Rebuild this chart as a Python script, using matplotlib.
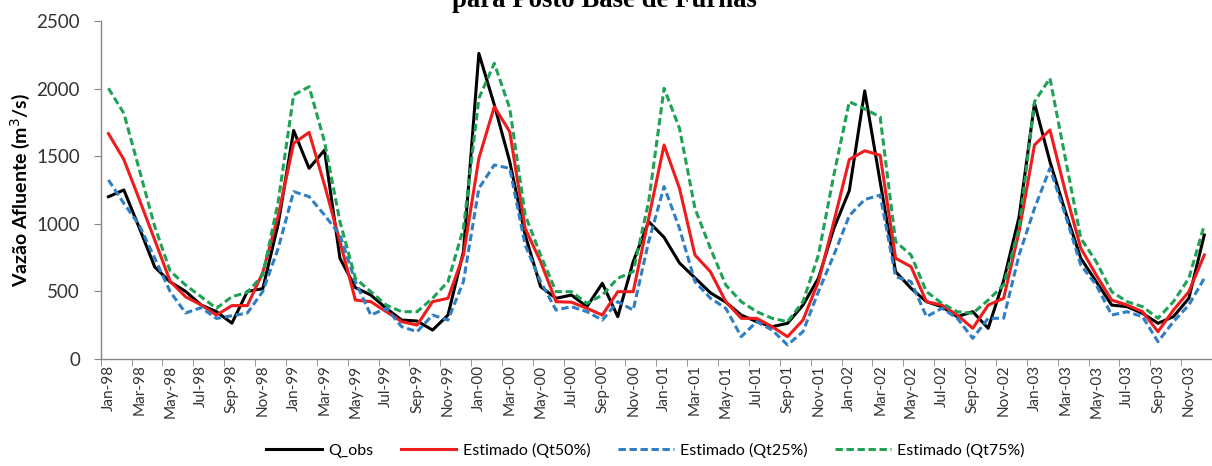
import matplotlib
matplotlib.use("Agg")
import matplotlib.pyplot as plt
import numpy as np

# monthly inflow, Jan-98 .. Dec-03 (m3/s)
months = [f"{m}-{y:02d}" for y in (98, 99, 0, 1, 2, 3)
          for m in ("Jan", "Feb", "Mar", "Apr", "May", "Jun",
                    "Jul", "Aug", "Sep", "Oct", "Nov", "Dec")]

q_obs = [1200, 1250, 970, 680, 570, 500, 400, 350, 265, 500, 520, 1000,
         1690, 1410, 1545, 745, 528, 473, 375, 288, 281, 214, 325, 794,
         2260, 1880, 1460, 917, 535, 449, 473, 387, 560, 313, 720, 1016,
         900, 710, 600, 490, 420, 325, 276, 239, 264, 399, 597, 966,
         1245, 1983, 1310, 646, 523, 424, 387, 313, 350, 227, 580, 1050,
         1891, 1460, 1090, 745, 572, 399, 387, 338, 264, 313, 449, 917]

qt50 = [1667, 1475, 1180, 880, 575, 460, 400, 325, 395, 395, 640, 1060,
        1595, 1676, 1287, 868, 436, 424, 350, 276, 251, 424, 449, 769,
        1484, 1866, 1681, 966, 720, 424, 420, 375, 325, 498, 498, 1040,
        1583, 1262, 769, 646, 424, 301, 301, 239, 165, 288, 572, 1016,
        1475, 1540, 1507, 745, 683, 424, 399, 325, 227, 399, 449, 942,
        1583, 1694, 1238, 819, 621, 436, 399, 350, 202, 362, 498, 769]

qt25 = [1324, 1151, 990, 745, 498, 340, 380, 300, 320, 340, 500, 819,
        1238, 1201, 1065, 917, 572, 325, 375, 239, 202, 325, 288, 572,
        1262, 1435, 1410, 843, 572, 362, 387, 350, 288, 424, 362, 868,
        1275, 966, 572, 450, 375, 165, 276, 214, 104, 202, 498, 769,
        1060, 1180, 1212, 609, 572, 313, 375, 301, 153, 301, 301, 769,
        1114, 1410, 1065, 695, 547, 325, 350, 313, 128, 276, 399, 597]

qt75 = [2002, 1817, 1400, 980, 650, 547, 461, 375, 461, 493, 621, 1164,
        1953, 2014, 1607, 1016, 597, 498, 399, 350, 350, 449, 572, 966,
        1928, 2187, 1854, 1065, 769, 498, 498, 412, 473, 597, 646, 1164,
        2002, 1706, 1114, 819, 547, 424, 350, 301, 276, 424, 769, 1361,
        1903, 1850, 1790, 868, 769, 498, 412, 350, 338, 436, 547, 966,
        1903, 2076, 1484, 893, 720, 498, 424, 387, 301, 424, 597, 991]

x = np.arange(len(months))

fig = plt.figure(figsize=(12.12, 4.66), dpi=100)
ax = fig.add_axes([0.0831, 0.2296, 0.9169, 0.7254])

dash = (0, (2.4, 1.2))
ax.plot(x, q_obs, color="black", lw=2.2, label="Q_obs")
ax.plot(x, qt50, color="#ee1c1c", lw=2.2, label="Estimado (Qt50%)")
ax.plot(x, qt25, color="#2f7fc4", lw=2.2, ls=dash, label="Estimado (Qt25%)")
ax.plot(x, qt75, color="#1fa255", lw=2.2, ls=dash, label="Estimado (Qt75%)")

ax.set_xlim(-0.5, len(months) - 0.5)
ax.set_ylim(0, 2500)
ax.set_yticks(range(0, 2501, 500))

# labels on every other month, tick marks on the category boundaries
ax.set_xticks(x[::2])
ax.set_xticklabels(months[::2], rotation=90, fontsize=11, family="Lato", color="#333333")
ax.tick_params(axis="x", which="major", length=0, pad=4)
ax.set_xticks(np.arange(-0.5, len(months), 2), minor=True)
ax.tick_params(axis="x", which="minor", length=5, color="#868686", direction="out")
ax.tick_params(axis="y", length=5, color="#868686", labelsize=13.5, pad=10)
for lab in ax.get_yticklabels():
    lab.set_family("Lato")
    lab.set_color("#333333")

for side in ("top", "right"):
    ax.spines[side].set_visible(False)
for side in ("left", "bottom"):
    ax.spines[side].set_color("#868686")
    ax.spines[side].set_linewidth(1.0)

ax.set_ylabel("Vazão Afluente (m$^3$/s)", fontsize=14, fontweight="bold",
              family="Lato", labelpad=3)

fig.text(0.499, 1 - 7 / 466, "para Posto Base de Furnas", ha="center", va="baseline",
         fontsize=19.3, fontweight="bold", family="Liberation Serif")

ax.legend(loc="lower center", bbox_to_anchor=(0.49, -0.335), ncol=4, frameon=False,
          handlelength=3.5, columnspacing=1.7, handletextpad=0.4,
          prop={"family": "Lato", "size": 11.5})

fig.savefig("out.png", dpi=100)
